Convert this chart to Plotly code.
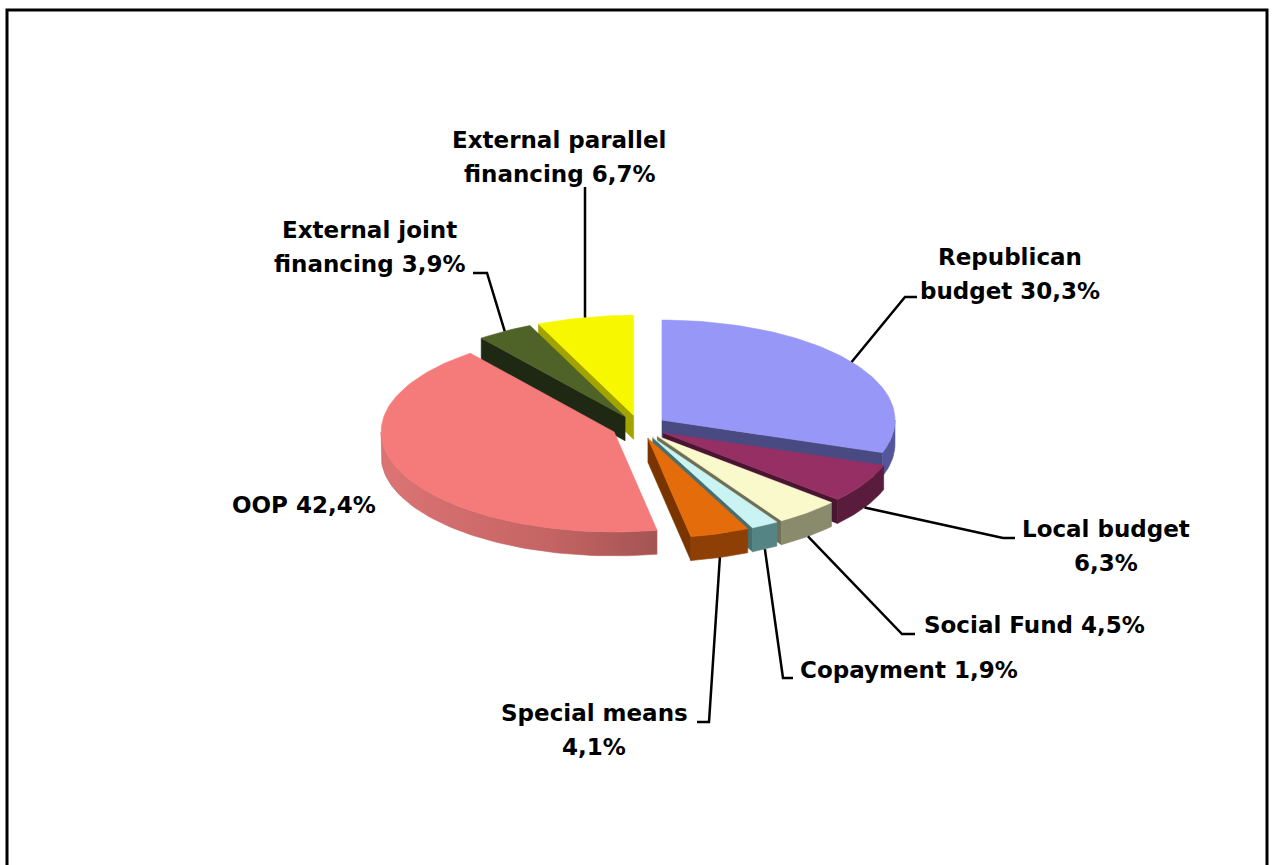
import numpy as np
import plotly.graph_objects as go

# Health financing sources, share of total (%), clockwise from 12 o'clock
categories = [
    "Republican budget", "Local budget", "Social Fund", "Copayment",
    "Special means", "OOP", "External joint financing", "External parallel financing",
]
shares = [30.3, 6.3, 4.5, 1.9, 4.1, 42.4, 3.9, 6.7]
# label wording, "\n" marks the line break
label_names = [
    "Republican\nbudget", "Local budget\n", "Social Fund", "Copayment",
    "Special means\n", "OOP", "External joint\nfinancing", "External parallel\nfinancing",
]

# colours: top face, outer rim wall, radial wall
top_colors = ["#9797F7", "#963064", "#FAF9CC", "#CAF3F3", "#E56C0B", "#F57B7B", "#4F6228", "#F7F700"]
rim_colors = ["#55559A", "#5A1C3C", "#8A8A6C", "#548484", "#8E3F05", "#C46464", "#222C14", "#8F8F00"]
wall_colors = ["#4A4A82", "#4A1531", "#6F6F55", "#467070", "#7A3400", "#B05A5A", "#1E2812", "#A3A300"]

# tilted pie geometry (pixels)
CX, CY = 639.4, 427.0       # pie centre
RX, RY = 233.0, 100.0       # ellipse radii of the top face
DEPTH = 24.0                # thickness
EXPLODE = 0.119             # slice pull-out, fraction of radius

# label placement: centre x, first line y, leader elbow points
label_pos = [(1010, 257), (1106, 529), (1034, 625), (909, 670),
             (594, 713), (304, 505), (369, 230), (559, 140)]
leader_elbows = [
    [(917, 297), (905, 297)],
    [(1015, 538), (1003, 538)],
    [(915, 634), (902, 634)],
    [(793, 678), (783, 678)],
    [(697, 722), (709, 722)],
    None,
    [(473, 273), (487, 273)],
    [(585, 187)],
]
LINE_GAP = 34

total = sum(shares)
ends = np.cumsum(shares) / total * 360.0
starts = np.concatenate([[0.0], ends[:-1]])


def rim_point(vx, vy, ang):
    r = np.radians(ang)
    return vx + RX * np.sin(r), vy - RY * np.cos(r)


def arc(vx, vy, a0, a1, dy=0.0):
    n = max(3, int(abs(a1 - a0) / 1.5) + 2)
    angs = np.linspace(a0, a1, n)
    xs, ys = rim_point(vx, vy, angs)
    return list(xs), list(ys + dy)


fig = go.Figure()
radial_walls, rim_walls, tops, anchors = [], [], [], []

for i, (s, t) in enumerate(zip(starts, ends)):
    m = np.radians((s + t) / 2)
    vx = CX + EXPLODE * RX * np.sin(m)
    vy = CY - EXPLODE * RY * np.cos(m)

    # radial side walls facing the viewer
    for ang, visible in ((s, np.sin(np.radians(s)) < -1e-6), (t, np.sin(np.radians(t)) > 1e-6)):
        if visible:
            px, py = rim_point(vx, vy, ang)
            radial_walls.append((vy, [vx, px, px, vx, vx], [vy, py, py + DEPTH, vy + DEPTH, vy], wall_colors[i]))

    # outer rim wall on the front half
    lo, hi = max(s, 90.0), min(t, 270.0)
    if lo < hi:
        tx, ty = arc(vx, vy, lo, hi)
        bx, by = arc(vx, vy, hi, lo, DEPTH)
        rim_walls.append((i, tx + bx + [tx[0]], ty + by + [ty[0]]))

    # top face
    ax_, ay_ = arc(vx, vy, s, t)
    tops.append(([vx] + ax_ + [vx], [vy] + ay_ + [vy], top_colors[i]))

    # leader anchor at the middle of the slice's rim
    px, py = rim_point(vx, vy, np.degrees(m))
    if np.cos(m) < 0:
        py += DEPTH
    anchors.append((px, py))

poly = dict(mode="lines", fill="toself", hoverinfo="skip", showlegend=False)

for _, xs, ys, c in sorted(radial_walls, key=lambda w: w[0]):
    fig.add_trace(go.Scatter(x=xs, y=ys, fillcolor=c, line=dict(color=c, width=0.6), **poly))

for i, xs, ys in rim_walls:
    if categories[i] == "OOP":
        fig.add_trace(go.Scatter(
            x=xs, y=ys, line=dict(color="#C06262", width=0.6),
            fillgradient=dict(type="horizontal",
                              colorscale=[[0, "#DC7474"], [0.6, "#C56464"], [1, "#A45454"]]),
            **poly))
    else:
        c = rim_colors[i]
        fig.add_trace(go.Scatter(x=xs, y=ys, fillcolor=c, line=dict(color=c, width=0.6), **poly))

for xs, ys, c in tops:
    fig.add_trace(go.Scatter(x=xs, y=ys, fillcolor=c, line=dict(color=c, width=0.6), **poly))

# leader lines
for elbow, (px, py) in zip(leader_elbows, anchors):
    if elbow is None:
        continue
    pts = elbow + [(px, py)]
    fig.add_trace(go.Scatter(x=[p[0] for p in pts], y=[p[1] for p in pts], mode="lines",
                             line=dict(color="#000000", width=2.5), hoverinfo="skip", showlegend=False))

# labels
annotations = []
for name, val, (lx, ly) in zip(label_names, shares, label_pos):
    pct = f"{val:.1f}".replace(".", ",") + "%"
    text = name + pct if name.endswith("\n") else name + " " + pct
    for k, line in enumerate(text.split("\n")):
        annotations.append(dict(
            x=lx, y=ly + k * LINE_GAP, xref="x", yref="y", text=line, showarrow=False,
            xanchor="center", yanchor="middle",
            font=dict(family="DejaVu Sans", size=23, color="#000000", weight="bold"),
        ))

fig.update_layout(
    width=1275, height=865,
    margin=dict(l=0, r=0, t=0, b=0, pad=0),
    paper_bgcolor="white", plot_bgcolor="white",
    xaxis=dict(range=[0, 1275], visible=False, fixedrange=True),
    yaxis=dict(range=[865, 0], visible=False, fixedrange=True),
    annotations=annotations,
    shapes=[dict(type="rect", xref="x", yref="y", x0=7, y0=10, x1=1267, y1=880,
                 line=dict(color="black", width=3), fillcolor="rgba(0,0,0,0)")],
    showlegend=False,
)

fig.write_html("out.html")
